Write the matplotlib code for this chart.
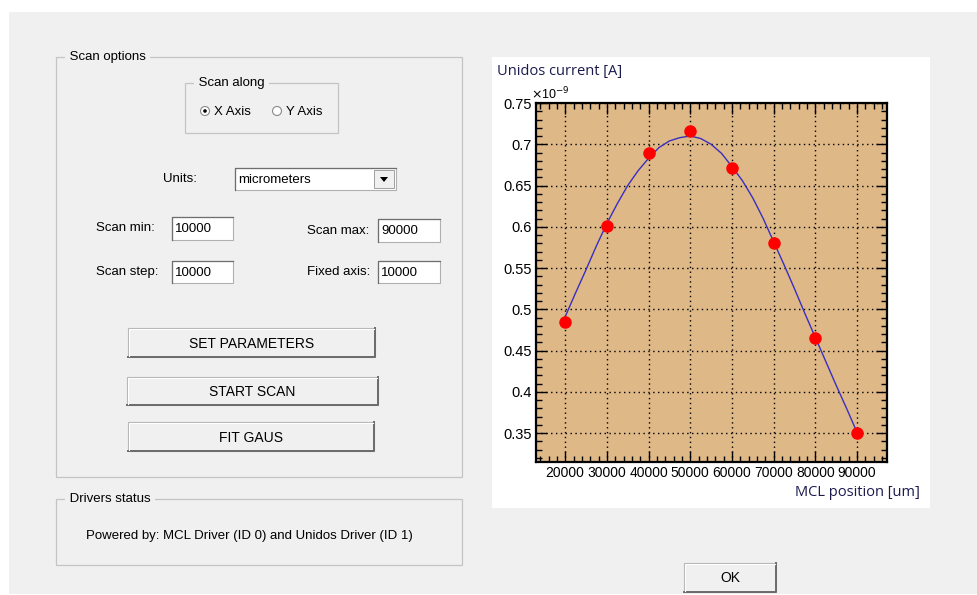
import numpy as np
import matplotlib
matplotlib.use('Agg')
import matplotlib.pyplot as plt
from matplotlib.patches import Rectangle, Circle, Polygon
from matplotlib.ticker import MultipleLocator, FuncFormatter

# scan data (current in units of 1e-9 A)
pos = [20000, 30000, 40000, 50000, 60000, 70000, 80000, 90000]
current = [0.485, 0.601, 0.690, 0.716, 0.671, 0.580, 0.465, 0.350]

# gaussian fit curve
fit_pos = [20000, 22500, 25000, 27500, 30000, 32500, 35000, 37500, 40000,
           42500, 45000, 47500, 50000, 52500, 55000, 57500, 60000, 62500,
           65000, 67500, 70000, 72500, 75000, 77500, 80000, 82500, 85000,
           87500, 90000]
fit_cur = [0.491, 0.520, 0.548, 0.577, 0.604, 0.628, 0.650, 0.668, 0.683,
           0.696, 0.704, 0.708, 0.710, 0.707, 0.700, 0.689, 0.673, 0.656,
           0.635, 0.610, 0.582, 0.554, 0.525, 0.495, 0.466, 0.437, 0.408,
           0.380, 0.351]

yticks = [0.35, 0.4, 0.45, 0.5, 0.55, 0.6, 0.65, 0.7, 0.75]
xticks = [20000, 30000, 40000, 50000, 60000, 70000, 80000, 90000]

W, H = 978, 595
GUI = '#f0f0f0'
FONT = 'Liberation Sans'

fig = plt.figure(figsize=(W/100, H/100), dpi=100)
fig.patch.set_facecolor('white')

# background axes in pixel coords for the dialog widgets
bg = fig.add_axes([0, 0, 1, 1])
bg.set_xlim(0, W)
bg.set_ylim(H, 0)
bg.axis('off')

def rect(x0, y0, x1, y1, fc='none', ec='none', lw=0.8, z=1):
    bg.add_patch(Rectangle((x0, y0), x1-x0, y1-y0, facecolor=fc, edgecolor=ec, lw=lw, zorder=z))

def txt(x, y, s, ha='left', size=9.5, **kw):
    bg.text(x, y, s, ha=ha, va='center', fontsize=size, family=FONT, color='#000000', **kw)

def groupbox(x0, y0, x1, y1, label):
    rect(x0, y0, x1, y1, ec='#c4c4c4', lw=0.9)
    bg.text(x0 + 10, y0, ' ' + label + ' ', ha='left', va='center', fontsize=9.5, family=FONT,
            bbox=dict(fc=GUI, ec='none', pad=0.5), zorder=3)

def textbox(x0, y0, x1, y1, s):
    rect(x0, y0, x1, y1, fc='white', ec='#b0b0b0', lw=0.8, z=2)
    bg.plot([x0, x0, x1], [y1, y0, y0], color='#6e6e6e', lw=0.9, zorder=3)
    txt(x0 + 3, (y0 + y1)/2 + 1, s, zorder=4)

def button(x0, y0, x1, y1, s):
    rect(x0, y0, x1, y1, fc='#f0f0f0', ec='#b4b4b4', lw=0.8, z=2)
    bg.plot([x0, x1, x1], [y1, y1, y0], color='#6a6a6a', lw=1.4, zorder=3)
    bg.plot([x0+1, x0+1, x1-1], [y1-1, y0+1, y0+1], color='white', lw=0.8, zorder=3)
    txt((x0 + x1)/2, (y0 + y1)/2 + 1, s, ha='center', size=10, zorder=4)

# window area
rect(9, 12, W, 594, fc=GUI, z=0)

# scan options group
groupbox(56, 57, 462, 477, 'Scan options')
groupbox(185, 83, 338, 133, 'Scan along')
bg.add_patch(Circle((205, 111), 4.5, fc='white', ec='#8a8a8a', lw=0.8, zorder=3))
bg.add_patch(Circle((205, 111), 1.8, fc='black', ec='none', zorder=4))
txt(214, 112, 'X Axis')
bg.add_patch(Circle((277, 111), 4.5, fc='white', ec='#8a8a8a', lw=0.8, zorder=3))
txt(286, 112, 'Y Axis')

txt(163, 179, 'Units:')
textbox(235, 168, 396, 190, 'micrometers')
rect(374, 170, 394, 188, fc='#f0f0f0', ec='#a0a0a0', lw=0.7, z=4)
bg.add_patch(Polygon([[380, 177], [388, 177], [384, 182]], closed=True, fc='black', ec='none', zorder=5))

txt(96, 228, 'Scan min:')
textbox(172, 217, 233, 240, '10000')
txt(307, 231, 'Scan max:')
textbox(378, 219, 440, 242, '90000')
txt(96, 272, 'Scan step:')
textbox(172, 261, 233, 283, '10000')
txt(307, 272, 'Fixed axis:')
textbox(378, 261, 440, 283, '10000')

button(128, 328, 375, 357, 'SET PARAMETERS')
button(127, 377, 378, 405, 'START SCAN')
button(128, 422, 374, 451, 'FIT GAUS')

groupbox(56, 499, 462, 565, 'Drivers status')
txt(86, 536, 'Powered by: MCL Driver (ID 0) and Unidos Driver (ID 1)')

button(684, 563, 776, 592, 'OK')

# chart panel
rect(492, 57, 930, 508, fc='white', z=0.5)
bg.text(497, 72, 'Unidos current [A]', ha='left', va='center', fontsize=10.5,
        family='Open Sans', color='#1a1a4e')
bg.text(920, 493, 'MCL position [um]', ha='right', va='center', fontsize=10.5,
        family='Open Sans', color='#1a1a4e')
bg.text(531, 94, r'$\times$10$^{-9}$', ha='left', va='center', fontsize=9, family=FONT)

# plot frame
L, T, R, B = 536, 103, 887, 462
ax = fig.add_axes([L/W, 1 - B/H, (R-L)/W, (B-T)/H])
ax.set_facecolor('#deb887')
ax.plot(fit_pos, fit_cur, color='#3a2fc0', lw=1.0, zorder=3)
ax.plot(pos, current, 'o', color='#ff0000', ms=8, mec='#ff0000', zorder=4)
ax.set_xlim(13000, 97200)
ax.set_ylim(0.315, 0.75)
ax.set_xticks(xticks)
ax.set_yticks(yticks)
ax.xaxis.set_minor_locator(MultipleLocator(2000))
ax.yaxis.set_minor_locator(MultipleLocator(0.01))
ax.yaxis.set_major_formatter(FuncFormatter(lambda v, p: '%g' % round(v, 2)))
ax.tick_params(which='both', direction='in', top=True, right=True, colors='black',
               labelsize=10.5, width=1.0)
ax.tick_params(axis='x', labelsize=10)
ax.tick_params(which='major', length=8, pad=3)
ax.tick_params(which='minor', length=4)
for lab in ax.get_xticklabels() + ax.get_yticklabels():
    lab.set_family(FONT)
ax.grid(True, which='major', linestyle=(0, (1, 2.5)), color='black', lw=1.0)
for s in ax.spines.values():
    s.set_linewidth(1.6)

fig.savefig('out.png', dpi=100, facecolor=fig.get_facecolor())
